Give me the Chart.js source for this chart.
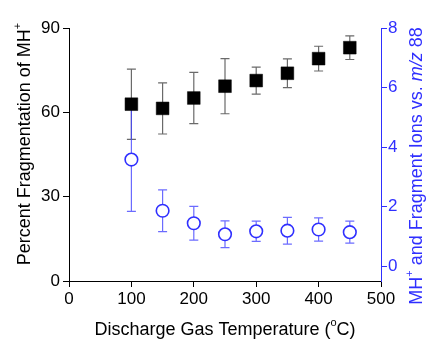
<!DOCTYPE html>
<html lang="en">
<head>
    <meta charset="UTF-8">
    <title>Fragmentation vs Discharge Gas Temperature</title>
    <style>
        body{
            margin: 0;
            background-color: #ffffff;
        }
    </style>
</head>
<body>

    <canvas id="myChart" width="426" height="340"></canvas>

    <script src="https://cdn.jsdelivr.net/npm/chart.js"></script>

    <script>
        // values
        const temps = [100, 150, 200, 250, 300, 350, 400, 450]
        const fragPct = [62.9, 61.4, 65.1, 69.3, 71.3, 73.9, 79.1, 83.0]
        const fragErr = [12.5, 9.1, 9.1, 9.8, 4.8, 5.1, 4.4, 4.2]
        const ionRatio = [3.58, 1.86, 1.44, 1.07, 1.17, 1.19, 1.23, 1.14]
        const ionErr = [1.74, 0.70, 0.57, 0.45, 0.34, 0.45, 0.39, 0.37]
        const xTicks = [0, 100, 200, 300, 400, 500]
        const leftTicks = [0, 30, 60, 90]
        const rightTicks = [0, 2, 4, 6, 8]

        const BLUE = '#2f2fff'
        const FONT = 'Liberation Sans, Arial, sans-serif'

        const setTicks = (vals) => (scale) => { scale.ticks = vals.map(v => ({ value: v })) }

        // error bars drawn under the markers
        const errorBars = {
            id: 'errorBars',
            beforeDatasetsDraw(chart) {
                const ctx = chart.ctx
                const x = chart.scales.x
                const sets = [
                    { scale: chart.scales.y, vals: fragPct, errs: fragErr, color: '#6a6a6a' },
                    { scale: chart.scales.y2, vals: ionRatio, errs: ionErr, color: 'rgba(70,70,255,0.8)' }
                ]
                ctx.save()
                ctx.lineWidth = 1.2
                sets.forEach(s => {
                    ctx.strokeStyle = s.color
                    temps.forEach((t, i) => {
                        const px = x.getPixelForValue(t)
                        const top = s.scale.getPixelForValue(s.vals[i] + s.errs[i])
                        const bot = s.scale.getPixelForValue(s.vals[i] - s.errs[i])
                        ctx.beginPath()
                        ctx.moveTo(px, top); ctx.lineTo(px, bot)
                        ctx.moveTo(px - 4.5, top); ctx.lineTo(px + 4.5, top)
                        ctx.moveTo(px - 4.5, bot); ctx.lineTo(px + 4.5, bot)
                        ctx.stroke()
                    })
                })
                ctx.restore()
            }
        }

        // draw text made of pieces (superscripts, italics), centred on cx, cy
        function drawPieces(ctx, pieces, cx, cy, rot, color) {
            ctx.save()
            ctx.translate(cx, cy)
            ctx.rotate(rot)
            ctx.fillStyle = color
            ctx.textBaseline = 'middle'
            ctx.textAlign = 'left'
            const fontOf = p => (p.italic ? 'italic ' : '') + (p.sup ? 11 : 18) + 'px ' + FONT
            let total = 0
            pieces.forEach(p => { ctx.font = fontOf(p); total += ctx.measureText(p.t).width })
            let pos = -total / 2
            pieces.forEach(p => {
                ctx.font = fontOf(p)
                ctx.fillText(p.t, pos, p.sup ? -7 : 0)
                pos += ctx.measureText(p.t).width
            })
            ctx.restore()
        }

        const titles = {
            id: 'titles',
            afterDraw(chart) {
                const ctx = chart.ctx
                drawPieces(ctx, [{ t: 'Discharge Gas Temperature (' }, { t: 'o', sup: true }, { t: 'C)' }],
                    225, 330, 0, '#000')
                drawPieces(ctx, [{ t: 'Percent Fragmentation of MH' }, { t: '+', sup: true }],
                    25, 144, -Math.PI / 2, '#000')
                drawPieces(ctx, [{ t: 'MH' }, { t: '+', sup: true }, { t: ' and Fragment Ions vs. ' },
                    { t: 'm/z', italic: true }, { t: ' 88' }],
                    417, 166, -Math.PI / 2, BLUE)
            }
        }

        var ctx = document.getElementById('myChart')
        var myChart = new Chart(ctx, {
            type: 'scatter',
            data: {
                datasets: [{
                    label: 'Percent Fragmentation',
                    data: temps.map((t, i) => ({ x: t, y: fragPct[i] })),
                    yAxisID: 'y',
                    pointStyle: 'rect',
                    pointRadius: 9,
                    backgroundColor: '#000',
                    borderColor: '#000',
                    borderWidth: 0.5
                }, {
                    label: 'MH+ and Fragment Ions vs. m/z 88',
                    data: temps.map((t, i) => ({ x: t, y: ionRatio[i] })),
                    yAxisID: 'y2',
                    pointStyle: 'circle',
                    pointRadius: 6.3,
                    backgroundColor: '#fff',
                    borderColor: BLUE,
                    borderWidth: 1.6
                }]
            },
            options: {
                responsive: false,
                animation: false,
                layout: { padding: { top: 28, left: 0, right: 0, bottom: 0 } },
                plugins: {
                    legend: { display: false },
                    tooltip: { enabled: false }
                },
                scales: {
                    x: {
                        type: 'linear',
                        position: 'bottom',
                        min: 0, max: 500,
                        afterBuildTicks: setTicks(xTicks),
                        afterFit: s => { s.height = 59 },
                        grid: { drawOnChartArea: false, tickLength: 6, color: '#000' },
                        border: { color: '#000', width: 1 },
                        ticks: { color: '#000', padding: 2, maxRotation: 0, font: { family: FONT, size: 17 } }
                    },
                    y: {
                        type: 'linear',
                        position: 'left',
                        min: 0, max: 90,
                        afterBuildTicks: setTicks(leftTicks),
                        afterFit: s => { s.width = 69 },
                        grid: { drawOnChartArea: false, tickLength: 6, color: '#000' },
                        border: { color: '#000', width: 1 },
                        ticks: { color: '#000', padding: 3, font: { family: FONT, size: 17 } }
                    },
                    y2: {
                        type: 'linear',
                        position: 'right',
                        min: -0.5, max: 8,
                        afterBuildTicks: setTicks(rightTicks),
                        afterFit: s => { s.width = 45 },
                        grid: { drawOnChartArea: false, tickLength: 6, color: BLUE },
                        border: { color: BLUE, width: 1 },
                        ticks: { color: BLUE, padding: 1, font: { family: FONT, size: 17 } }
                    }
                }
            },
            plugins: [errorBars, titles]
        })
    </script>
</body>
</html>
